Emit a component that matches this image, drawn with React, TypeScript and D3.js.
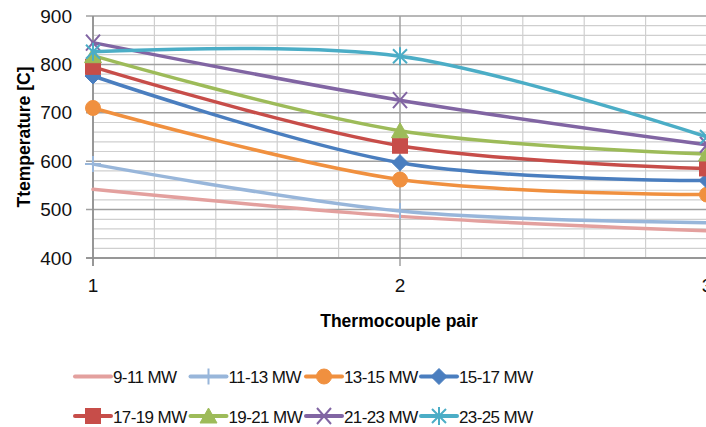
import React from "react";
import * as d3 from "d3";

const pairs = [1, 2, 3];
const seriesNames = ["9-11 MW", "11-13 MW", "13-15 MW", "15-17 MW", "17-19 MW", "19-21 MW", "21-23 MW", "23-25 MW"];
const s9_11 = [542, 486, 456];
const s11_13 = [594, 497, 473];
const s13_15 = [710, 562, 531];
const s15_17 = [776, 597, 560];
const s17_19 = [795, 632, 585];
const s19_21 = [818, 663, 615];
const s21_23 = [845, 726, 634];
const s23_25 = [826, 817, 650];
const seriesValues = [s9_11, s11_13, s13_15, s15_17, s17_19, s19_21, s21_23, s23_25];
const seriesColors = ["#E3A09E", "#98B6DA", "#F0903F", "#4A7EBF", "#C74D49", "#9DBB59", "#8165A3", "#4BADC6"];
const markerKinds = ["none", "plus", "circle", "diamond", "square", "triangle", "x", "star"];
const yTicks = [400, 500, 600, 700, 800, 900];
const xTickLabels = ["1", "2", "3"];

const W = 706;
const H = 427;
const FONT = "'Liberation Sans', Arial, sans-serif";

function Marker({ kind, color, x, y }: { kind: string; color: string; x: number; y: number }) {
  const t = `translate(${x},${y})`;
  switch (kind) {
    case "plus":
      return <path transform={t} d="M-8,0H8M0,-8V8" stroke={color} strokeWidth={2} fill="none" />;
    case "circle":
      return <circle cx={x} cy={y} r={7.5} fill={color} stroke={color} strokeWidth={1} />;
    case "diamond":
      return <path transform={t} d="M0,-8L8,0L0,8L-8,0Z" fill={color} stroke={color} strokeWidth={1} />;
    case "square":
      return <rect x={x - 7.5} y={y - 7.5} width={15} height={15} fill={color} stroke={color} strokeWidth={1} />;
    case "triangle":
      return <path transform={t} d="M0,-8L8.5,7L-8.5,7Z" fill={color} stroke={color} strokeWidth={1} />;
    case "x":
      return <path transform={t} d="M-7,-8L7,8M7,-8L-7,8" stroke={color} strokeWidth={2} fill="none" />;
    case "star":
      return <path transform={t} d="M-7,-7L7,7M7,-7L-7,7M0,-9V9" stroke={color} strokeWidth={2} fill="none" />;
    default:
      return null;
  }
}

export default function App() {
  const x = d3.scaleLinear().domain([1, 3]).range([93, 707]);
  const y = d3.scaleLinear().domain([400, 900]).range([258, 16]);

  const minorY = d3.range(400, 901, 20).filter((v) => v % 100 !== 0);
  const minorX = d3.range(1, 3.0001, 0.2).filter((v) => Math.abs(v - Math.round(v)) > 1e-6);

  const line = d3
    .line<number>()
    .x((_, i) => x(pairs[i]))
    .y((d) => y(d))
    .curve(d3.curveCardinal.tension(0));

  const legendCols = [75, 190.5, 306, 421];
  const legendRows = [376.5, 416];

  return (
    <div style={{ position: "fixed", left: 0, top: 0 }}>
      <svg width={W} height={H} style={{ display: "block", background: "#fff" }}>
        {/* minor gridlines */}
        {minorY.map((v) => (
          <line key={"my" + v} x1={x(1)} x2={W} y1={y(v)} y2={y(v)} stroke="#CFCFCF" strokeWidth={1.2} />
        ))}
        {minorX.map((v) => (
          <line key={"mx" + v} x1={x(v)} x2={x(v)} y1={y(900)} y2={y(400)} stroke="#CFCFCF" strokeWidth={1.2} />
        ))}
        {/* major gridlines */}
        {yTicks.map((v) => (
          <line key={"gy" + v} x1={x(1) - 7} x2={W} y1={y(v)} y2={y(v)} stroke="#A0A0A0" strokeWidth={1.5} />
        ))}
        {pairs.map((v) => (
          <line key={"gx" + v} x1={x(v)} x2={x(v)} y1={y(900)} y2={y(400) + 8} stroke="#A0A0A0" strokeWidth={1.5} />
        ))}
        {/* axes */}
        <line x1={x(1)} x2={x(1)} y1={y(900)} y2={y(400) + 8} stroke="#8C8C8C" strokeWidth={1.5} />
        <line x1={x(1) - 7} x2={W} y1={y(400)} y2={y(400)} stroke="#8C8C8C" strokeWidth={1.5} />

        {/* y tick labels */}
        {yTicks.map((v) => (
          <text key={"yl" + v} x={72} y={y(v) + 6.5} textAnchor="end" fontFamily={FONT} fontSize={19} fill="#111">
            {v}
          </text>
        ))}
        {/* x tick labels */}
        {pairs.map((v, i) => (
          <text key={"xl" + v} x={x(v)} y={292} textAnchor="middle" fontFamily={FONT} fontSize={19} fill="#111">
            {xTickLabels[i]}
          </text>
        ))}
        {/* axis titles */}
        <text x={399} y={326.5} textAnchor="middle" fontFamily={FONT} fontSize={17.5} fontWeight="bold" fill="#000">
          Thermocouple pair
        </text>
        <text
          transform={`translate(30,${137}) rotate(-90)`}
          textAnchor="middle"
          fontFamily={FONT}
          fontSize={17.5}
          fontWeight="bold"
          fill="#000"
        >
          Ttemperature [C]
        </text>

        {/* series */}
        {seriesValues.map((vals, si) => (
          <g key={"s" + si}>
            <path d={line(vals) || ""} fill="none" stroke={seriesColors[si]} strokeWidth={3.5} strokeLinecap="round" />
            {vals.map((v, i) => (
              <Marker key={i} kind={markerKinds[si]} color={seriesColors[si]} x={x(pairs[i])} y={y(v)} />
            ))}
          </g>
        ))}

        {/* legend */}
        {seriesNames.map((name, i) => {
          const col = i % 4;
          const row = Math.floor(i / 4);
          const lx = legendCols[col];
          const ly = legendRows[row];
          return (
            <g key={"lg" + i}>
              <line x1={lx} x2={lx + 36} y1={ly} y2={ly} stroke={seriesColors[i]} strokeWidth={4} strokeLinecap="round" />
              <Marker kind={markerKinds[i]} color={seriesColors[i]} x={lx + 18} y={ly} />
              <text x={lx + 38} y={ly + 6.5} fontFamily={FONT} fontSize={17} letterSpacing={-0.6} fill="#111">
                {name}
              </text>
            </g>
          );
        })}
      </svg>
    </div>
  );
}
